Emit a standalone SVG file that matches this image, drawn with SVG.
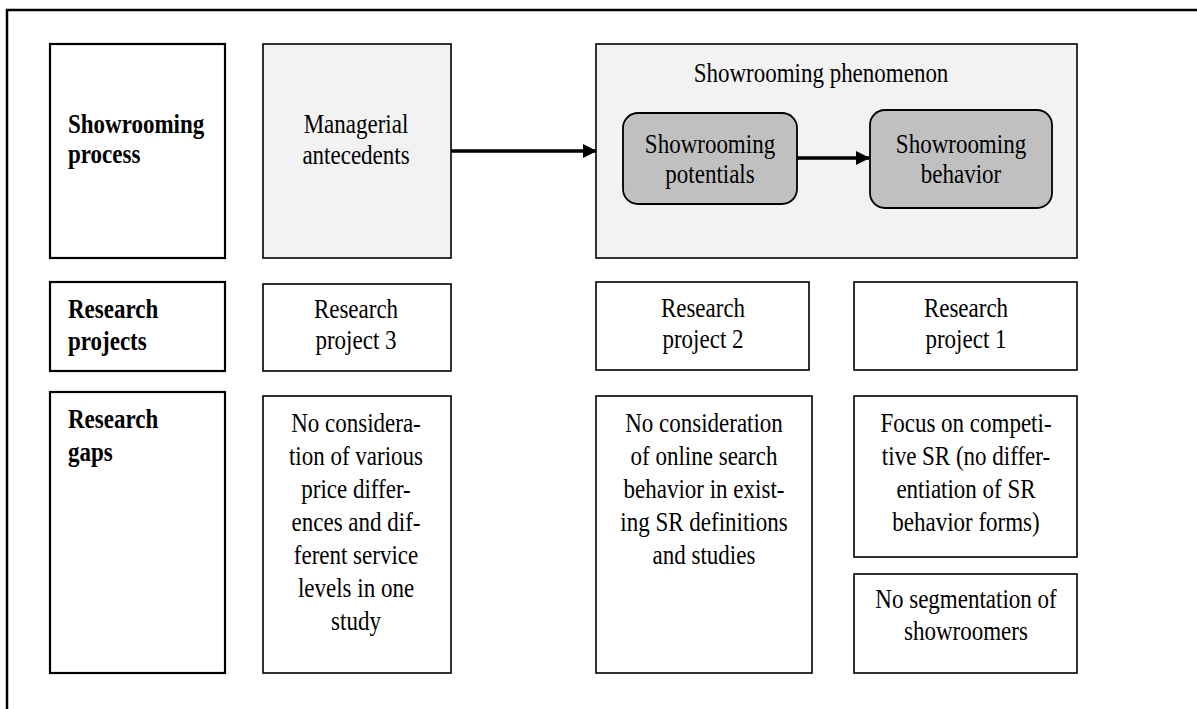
<svg xmlns="http://www.w3.org/2000/svg" width="1197" height="709" viewBox="0 0 1197 709">
<style>
.frame{fill:none;stroke:#000;stroke-width:2.5}
.lbl{fill:#fff;stroke:#000;stroke-width:2.2}
.box{fill:#fff;stroke:#000;stroke-width:1.6}
.grey{fill:#f2f2f2;stroke:#000;stroke-width:1.6}
.dark{fill:#c0c0c0;stroke:#000;stroke-width:1.8}
.conn{stroke:#000;stroke-width:3.5;fill:none}
text{font-family:"Liberation Serif","Times New Roman",serif;font-size:23px;fill:#000}
.c{text-anchor:middle}
.b{font-weight:bold}
</style>
<defs>
<marker id="ah" markerWidth="14" markerHeight="14" refX="13" refY="7" orient="auto" markerUnits="userSpaceOnUse">
<path d="M0,0 L14,7 L0,14 Z" fill="#000"/>
</marker>
</defs>
<rect class="frame" x="7" y="10" width="1220" height="740"/>
<g id="label-process">
<rect class="lbl" x="50" y="44" width="175" height="214"/>
<text class="b" transform="translate(68,132.7) scale(1,1.16)"><tspan x="0" y="0">Showrooming</tspan><tspan x="0" dy="26.5">process</tspan></text>
</g>
<g id="managerial">
<rect class="grey" x="263" y="44" width="188" height="214"/>
<text class="c" transform="translate(356,133) scale(1,1.16)"><tspan x="0" y="0">Managerial</tspan><tspan x="0" dy="26.7">antecedents</tspan></text>
</g>
<g id="phenomenon">
<rect class="grey" x="596" y="44" width="481" height="214"/>
<text class="c" transform="translate(821,82) scale(1,1.16)">Showrooming phenomenon</text>
</g>
<g id="potentials">
<rect class="dark" x="623" y="113" width="174" height="91" rx="15"/>
<text class="c" transform="translate(710,153) scale(1,1.16)"><tspan x="0" y="0">Showrooming</tspan><tspan x="0" dy="25.9">potentials</tspan></text>
</g>
<g id="behavior">
<rect class="dark" x="870" y="110" width="182" height="98" rx="15"/>
<text class="c" transform="translate(961,153) scale(1,1.16)"><tspan x="0" y="0">Showrooming</tspan><tspan x="0" dy="25.9">behavior</tspan></text>
</g>
<g id="label-projects">
<rect class="lbl" x="50" y="282" width="175" height="89"/>
<text class="b" transform="translate(68,318) scale(1,1.16)"><tspan x="0" y="0">Research</tspan><tspan x="0" dy="27.6">projects</tspan></text>
</g>
<g id="project3">
<rect class="box" x="263" y="284" width="188" height="87"/>
<text class="c" transform="translate(356,318) scale(1,1.16)"><tspan x="0" y="0">Research</tspan><tspan x="0" dy="26.7">project 3</tspan></text>
</g>
<g id="project2">
<rect class="box" x="596" y="282" width="213" height="88"/>
<text class="c" transform="translate(703,317) scale(1,1.16)"><tspan x="0" y="0">Research</tspan><tspan x="0" dy="26.7">project 2</tspan></text>
</g>
<g id="project1">
<rect class="box" x="854" y="282" width="223" height="88"/>
<text class="c" transform="translate(966,317) scale(1,1.16)"><tspan x="0" y="0">Research</tspan><tspan x="0" dy="26.7">project 1</tspan></text>
</g>
<g id="label-gaps">
<rect class="lbl" x="50" y="392" width="175" height="281"/>
<text class="b" transform="translate(68,428) scale(1,1.16)"><tspan x="0" y="0">Research</tspan><tspan x="0" dy="28.4">gaps</tspan></text>
</g>
<g id="gap3">
<rect class="box" x="263" y="396" width="188" height="277"/>
<text class="c" transform="translate(356,432) scale(1,1.16)"><tspan x="0" y="0">No considera-</tspan><tspan x="0" dy="28.45">tion of various</tspan><tspan x="0" dy="28.45">price differ-</tspan><tspan x="0" dy="28.45">ences and dif-</tspan><tspan x="0" dy="28.45">ferent service</tspan><tspan x="0" dy="28.45">levels in one</tspan><tspan x="0" dy="28.45">study</tspan></text>
</g>
<g id="gap2">
<rect class="box" x="596" y="396" width="216" height="277"/>
<text class="c" transform="translate(704,432) scale(1,1.16)"><tspan x="0" y="0">No consideration</tspan><tspan x="0" dy="28.45">of online search</tspan><tspan x="0" dy="28.45">behavior in exist-</tspan><tspan x="0" dy="28.45">ing SR definitions</tspan><tspan x="0" dy="28.45">and studies</tspan></text>
</g>
<g id="gap1a">
<rect class="box" x="854" y="396" width="223" height="161"/>
<text class="c" transform="translate(966,432) scale(1,1.16)"><tspan x="0" y="0">Focus on competi-</tspan><tspan x="0" dy="28.45">tive SR (no differ-</tspan><tspan x="0" dy="28.45">entiation of SR</tspan><tspan x="0" dy="28.45">behavior forms)</tspan></text>
</g>
<g id="gap1b">
<rect class="box" x="854" y="574" width="223" height="99"/>
<text class="c" transform="translate(966,608) scale(1,1.16)"><tspan x="0" y="0">No segmentation of</tspan><tspan x="0" dy="27.6">showroomers</tspan></text>
</g>
<g id="connectors">
<line class="conn" x1="451" y1="151" x2="596" y2="151" marker-end="url(#ah)"/>
<line class="conn" x1="797" y1="158" x2="869" y2="158" marker-end="url(#ah)"/>
</g>
</svg>
